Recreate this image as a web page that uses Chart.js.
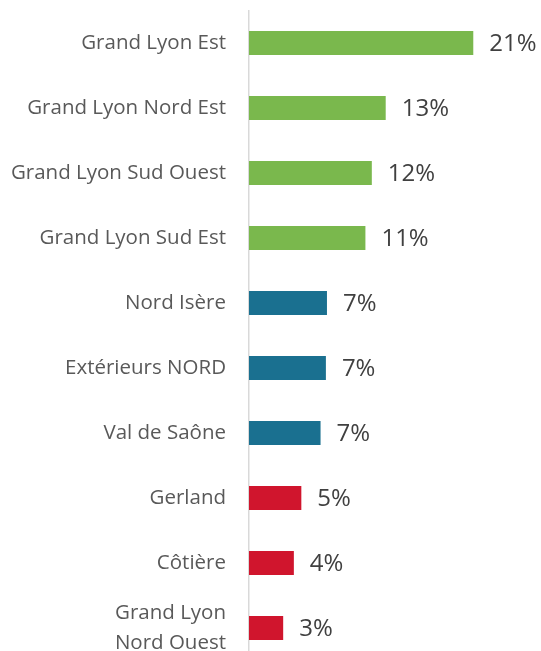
<!DOCTYPE html>
<html>
<head>
<meta charset="utf-8">
<script src="https://cdn.jsdelivr.net/npm/chart.js@4/dist/chart.umd.min.js"></script>
<style>
html,body{margin:0;padding:0;background:#fff;overflow:hidden;}
#wrap{width:541px;height:662px;}
</style>
</head>
<body>
<div id="wrap"><canvas id="c" width="541" height="662"></canvas></div>
<script>
const categories = [
  "Grand Lyon Est",
  "Grand Lyon Nord Est",
  "Grand Lyon Sud Ouest",
  "Grand Lyon Sud Est",
  "Nord Isère",
  "Extérieurs NORD",
  "Val de Saône",
  "Gerland",
  "Côtière",
  ["Grand Lyon", "Nord Ouest"]
];
const values = [21.0, 12.8, 11.5, 10.9, 7.3, 7.2, 6.7, 4.9, 4.2, 3.2];
const groups = ["A","A","A","A","B","B","B","C","C","C"];
const groupColors = { A: "#7AB84D", B: "#1A7090", C: "#D0152D" };

const labelPlugin = {
  id: "barLabels",
  afterDatasetsDraw(chart) {
    const ctx = chart.ctx;
    const meta = chart.getDatasetMeta(0);
    ctx.save();
    ctx.font = "24px 'Open Sans'";
    ctx.fillStyle = "#404040";
    ctx.textAlign = "left";
    ctx.textBaseline = "middle";
    meta.data.forEach((bar, i) => {
      ctx.fillText(Math.round(values[i]) + "%", bar.x + 16, bar.y + 1);
    });
    ctx.restore();
  }
};

new Chart(document.getElementById("c"), {
  type: "bar",
  data: {
    labels: categories,
    datasets: [{
      data: values,
      backgroundColor: groups.map(g => groupColors[g]),
      borderWidth: 0,
      barPercentage: 0.37,
      categoryPercentage: 1
    }]
  },
  options: {
    indexAxis: "y",
    responsive: false,
    animation: false,
    layout: { padding: { top: 10.5, bottom: 1.5, right: 25, left: 0 } },
    plugins: { legend: { display: false }, tooltip: { enabled: false } },
    scales: {
      x: { display: false, min: 0, max: 25 },
      y: {
        afterFit(scale) {
          scale.width = 249;
          scale.paddingTop = 0;
          scale.paddingBottom = 0;
        },
        grid: { display: false, drawTicks: false },
        border: { display: true, color: "#D9D9D9", width: 1.5 },
        ticks: {
          padding: 23,
          color: "#595959",
          font: { family: "'Open Sans'", size: 20.5, lineHeight: 1.46 }
        }
      }
    }
  },
  plugins: [labelPlugin]
});
</script>
</body>
</html>
